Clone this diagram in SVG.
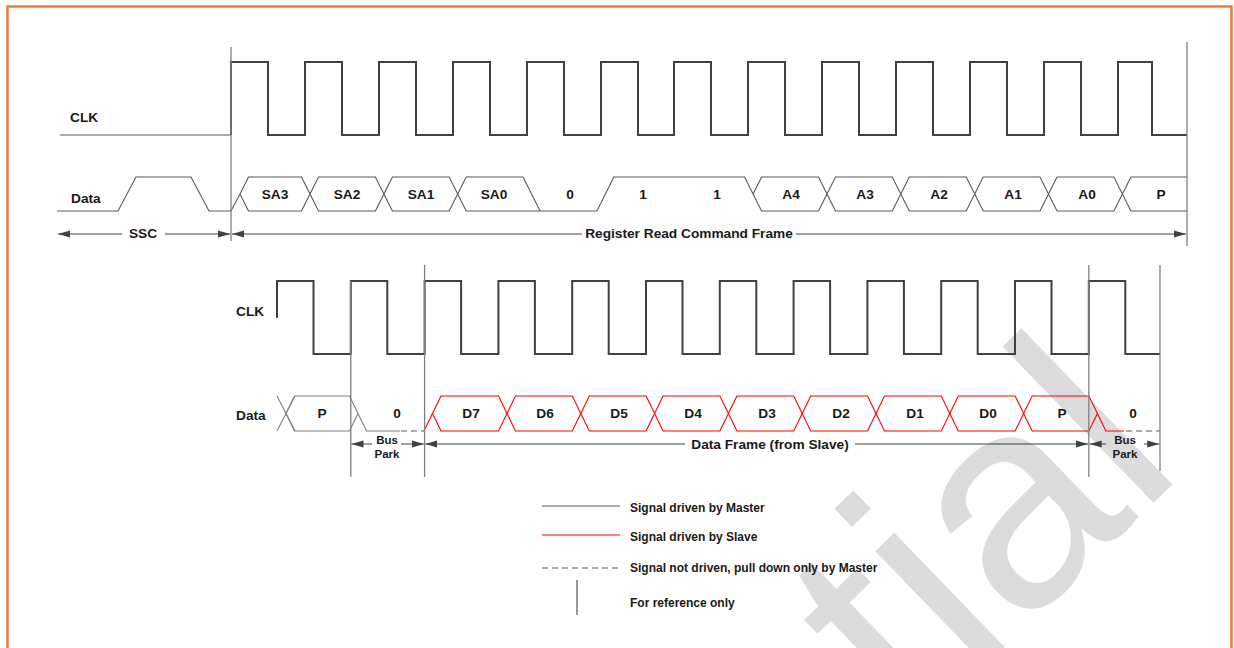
<svg xmlns="http://www.w3.org/2000/svg" width="1234" height="648" viewBox="0 0 1234 648">
<style>
text{font-family:"Liberation Sans",Arial,sans-serif;font-weight:bold;fill:#1a1a1a}
.lbl{font-size:13.7px}
.cell{font-size:13.7px;text-anchor:middle}
.sm{font-size:11.5px;text-anchor:middle}
.lg{font-size:12px}
.clk{fill:none;stroke:#404040;stroke-width:2}
.m{fill:none;stroke:#5a5a5a;stroke-width:1.1}
.mg{fill:none;stroke:#808080;stroke-width:1.1}
.s{fill:none;stroke:#ff0000;stroke-width:1.1}
.dash{fill:none;stroke:#5a5a5a;stroke-width:1.1;stroke-dasharray:6 4}
.ref{stroke:#808080;stroke-width:1.3}
.arr{stroke:#404040;stroke-width:1}
.wm{font-family:"Liberation Sans",Arial,sans-serif;font-weight:normal;font-size:300px;fill:#dcdcdc}
</style>
<defs>
<marker id="ah" markerUnits="userSpaceOnUse" markerWidth="13" markerHeight="8" refX="12" refY="4" orient="auto-start-reverse">
<path d="M0,0.5 L12,4 L0,7.5 z" fill="#404040"/>
</marker>
</defs>
<rect x="0" y="0" width="1234" height="648" fill="#ffffff"/>
<text class="wm" x="911" y="737" transform="rotate(-44 911 737)">tial</text>
<rect x="7.5" y="6.5" width="1224" height="700" fill="none" stroke="#ED7D31" stroke-width="2.5"/>

<g id="top-clk">
<text class="lbl" x="70" y="122">CLK</text>
<path class="m" d="M60,135 H231"/>
<path class="clk" d="M231,135 V62 H268 V135 H305 V62 H342 V135 H379 V62 H416 V135 H453 V62 H490 V135 H527 V62 H564 V135 H601 V62 H638 V135 H674 V62 H711 V135 H748 V62 H785 V135 H822 V62 H859 V135 H896 V62 H933 V135 H970 V62 H1007 V135 H1044 V62 H1081 V135 H1118 V62 H1152 V135 H1187"/>
</g>

<g id="top-data">
<text class="lbl" x="71" y="203">Data</text>
<path class="m" d="M57,211 H118 L136,177 H191 L209,211 H231 L240,194"/>
<path class="m" d="M240,194 L248.5,177 H301.5 L310,194 L301.5,211 H248.5 Z"/>
<path class="m" d="M310,194 L318.5,177 H375.4 L383.9,194 L375.4,211 H318.5 Z"/>
<path class="m" d="M383.9,194 L392.4,177 H449.2 L457.7,194 L449.2,211 H392.4 Z"/>
<path class="m" d="M540.1,211 L523.1,177 H466.2 L457.7,194 L466.2,211 H596.9 L613.9,177 H744.6 L753.1,194"/>
<path class="m" d="M753.1,194 L761.6,177 H818.5 L827,194 L818.5,211 H761.6 Z"/>
<path class="m" d="M827,194 L835.5,177 H892.3 L900.8,194 L892.3,211 H835.5 Z"/>
<path class="m" d="M900.8,194 L909.3,177 H966.2 L974.7,194 L966.2,211 H909.3 Z"/>
<path class="m" d="M974.7,194 L983.2,177 H1040 L1048.5,194 L1040,211 H983.2 Z"/>
<path class="m" d="M1048.5,194 L1057,177 H1113.9 L1122.4,194 L1113.9,211 H1057 Z"/>
<path class="m" d="M1187,177 H1130.9 L1122.4,194 L1130.9,211 H1187"/>
<text class="cell" x="275" y="199">SA3</text>
<text class="cell" x="347" y="199">SA2</text>
<text class="cell" x="421" y="199">SA1</text>
<text class="cell" x="494" y="199">SA0</text>
<text class="cell" x="570" y="199">0</text>
<text class="cell" x="643" y="199">1</text>
<text class="cell" x="717" y="199">1</text>
<text class="cell" x="791" y="199">A4</text>
<text class="cell" x="865" y="199">A3</text>
<text class="cell" x="939" y="199">A2</text>
<text class="cell" x="1013" y="199">A1</text>
<text class="cell" x="1087" y="199">A0</text>
<text class="cell" x="1161" y="199">P</text>
</g>

<g id="bottom-clk">
<text class="lbl" x="236" y="316">CLK</text>
<path class="clk" d="M277,318 V281 H313.5 V354 H350.8 V281 H387.3 V354 H424.6 V281 H461.1 V354 H498.4 V281 H534.9 V354 H572.2 V281 H608.7 V354 H646 V281 H682.5 V354 H719.8 V281 H756.3 V354 H793.6 V281 H830.1 V354 H867.4 V281 H903.9 V354 H941.2 V281 H977.7 V354 H1015 V281 H1051.5 V354 H1088.8 V281 H1125.3 V354 H1160"/>
</g>

<g id="bottom-data">
<text class="lbl" x="236" y="420">Data</text>
<path class="mg" d="M277,396 L295,431 M277,431 L295,396"/>
<path class="mg" d="M286,413.5 L294.5,396 H349.5 L358,413.5 L349.5,431 H294.5 Z"/>
<path class="mg" d="M358,413.5 L366.5,431 H400"/>
<path class="dash" d="M401,431 H424"/>
<path class="s" d="M424,431 L432.5,413.5"/>
<path class="s" d="M432.5,413.5 L441,396 H498.5 L507,413.5 L498.5,431 H441 Z"/>
<path class="s" d="M507,413.5 L515.5,396 H572.3 L580.8,413.5 L572.3,431 H515.5 Z"/>
<path class="s" d="M580.8,413.5 L589.3,396 H646.1 L654.6,413.5 L646.1,431 H589.3 Z"/>
<path class="s" d="M654.6,413.5 L663.1,396 H719.9 L728.4,413.5 L719.9,431 H663.1 Z"/>
<path class="s" d="M728.4,413.5 L736.9,396 H793.7 L802.2,413.5 L793.7,431 H736.9 Z"/>
<path class="s" d="M802.2,413.5 L810.7,396 H867.5 L876,413.5 L867.5,431 H810.7 Z"/>
<path class="s" d="M876,413.5 L884.5,396 H941.3 L949.8,413.5 L941.3,431 H884.5 Z"/>
<path class="s" d="M949.8,413.5 L958.3,396 H1015.1 L1023.6,413.5 L1015.1,431 H958.3 Z"/>
<path class="s" d="M1023.6,413.5 L1032.1,396 H1088.9 L1097.4,413.5 L1088.9,431 H1032.1 Z"/>
<path class="s" d="M1097.4,413.5 L1105.9,431 H1124"/>
<path class="dash" d="M1126,431 H1160"/>
<text class="cell" x="322" y="418">P</text>
<text class="cell" x="397" y="418">0</text>
<text class="cell" x="471" y="418">D7</text>
<text class="cell" x="545" y="418">D6</text>
<text class="cell" x="619" y="418">D5</text>
<text class="cell" x="693" y="418">D4</text>
<text class="cell" x="767" y="418">D3</text>
<text class="cell" x="841" y="418">D2</text>
<text class="cell" x="915" y="418">D1</text>
<text class="cell" x="988" y="418">D0</text>
<text class="cell" x="1062" y="418">P</text>
<text class="cell" x="1133" y="418">0</text>
</g>

<g id="reference-lines">
<line class="ref" x1="231" y1="47" x2="231" y2="241"/>
<line class="ref" x1="1187" y1="42" x2="1187" y2="246"/>
<line class="ref" x1="350.8" y1="281" x2="350.8" y2="477"/>
<line class="ref" x1="424.6" y1="265" x2="424.6" y2="477"/>
<line class="ref" x1="1088.8" y1="265" x2="1088.8" y2="477"/>
<line class="ref" x1="1160" y1="265" x2="1160" y2="471"/>
</g>

<g id="connectors">
<line class="arr" x1="58" y1="234" x2="122" y2="234" marker-start="url(#ah)"/>
<line class="arr" x1="165" y1="234" x2="230" y2="234" marker-end="url(#ah)"/>
<line class="arr" x1="232" y1="234" x2="582" y2="234" marker-start="url(#ah)"/>
<line class="arr" x1="796" y1="234" x2="1186" y2="234" marker-end="url(#ah)"/>
<line class="arr" x1="351.5" y1="444" x2="372" y2="444" marker-start="url(#ah)"/>
<line class="arr" x1="401" y1="444" x2="423.8" y2="444" marker-end="url(#ah)"/>
<line class="arr" x1="425.4" y1="444" x2="685" y2="444" marker-start="url(#ah)"/>
<line class="arr" x1="855" y1="444" x2="1088" y2="444" marker-end="url(#ah)"/>
<line class="arr" x1="1089.6" y1="444" x2="1106" y2="444" marker-start="url(#ah)"/>
<line class="arr" x1="1144" y1="444" x2="1159.2" y2="444" marker-end="url(#ah)"/>
</g>

<g id="arrow-labels">
<text class="cell" x="143" y="238">SSC</text>
<text class="cell" x="689" y="238">Register Read Command Frame</text>
<text class="sm" x="387" y="444">Bus</text>
<text class="sm" x="387" y="458">Park</text>
<text class="cell" x="770" y="449">Data Frame (from Slave)</text>
<text class="sm" x="1125" y="444">Bus</text>
<text class="sm" x="1125" y="458">Park</text>
</g>

<g id="legend">
<line x1="542" y1="506" x2="620" y2="506" stroke="#5a5a5a" stroke-width="1.1"/>
<text class="lg" x="630" y="512">Signal driven by Master</text>
<line x1="542" y1="535" x2="620" y2="535" stroke="#ff0000" stroke-width="1.1"/>
<text class="lg" x="630" y="541">Signal driven by Slave</text>
<line x1="542" y1="568" x2="620" y2="568" stroke="#5a5a5a" stroke-width="1.1" stroke-dasharray="6 4"/>
<text class="lg" x="630" y="572">Signal not driven, pull down only by Master</text>
<line x1="577" y1="580" x2="577" y2="615" stroke="#404040" stroke-width="1.1"/>
<text class="lg" x="630" y="607">For reference only</text>
</g>
</svg>
